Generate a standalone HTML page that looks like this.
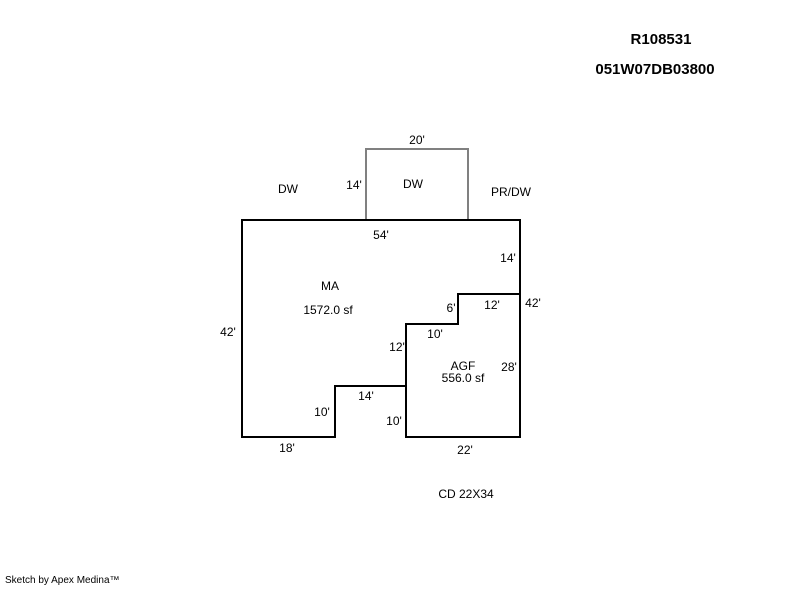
<!DOCTYPE html>
<html><head><style>body{margin:0;background:#fff;width:800px;height:587px;overflow:hidden}</style></head><body>
<svg width="800" height="587" xmlns="http://www.w3.org/2000/svg" font-family="Liberation Sans, sans-serif" font-size="12" fill="#000">
<text x="661" y="44" font-size="15" font-weight="bold" text-anchor="middle">R108531</text>
<text x="655" y="74" font-size="15" font-weight="bold" text-anchor="middle">051W07DB03800</text>
<polyline points="366,220 366,149 468,149 468,220" fill="none" stroke="#808080" stroke-width="2"/>
<polygon points="242,220 520,220 520,294 458,294 458,324 406,324 406,386 335,386 335,437 242,437" fill="none" stroke="#000" stroke-width="2"/>
<polygon points="406,324 458,324 458,294 520,294 520,437 406,437" fill="none" stroke="#000" stroke-width="2"/>
<g text-anchor="middle">
<text x="417" y="144">20'</text>
<text x="354" y="189">14'</text>
<text x="413" y="188">DW</text>
<text x="288" y="193">DW</text>
<text x="511" y="196">PR/DW</text>
<text x="381" y="239">54'</text>
<text x="508" y="262">14'</text>
<text x="330" y="290">MA</text>
<text x="328" y="314">1572.0 sf</text>
<text x="451" y="312">6'</text>
<text x="492" y="309">12'</text>
<text x="533" y="307">42'</text>
<text x="435" y="338">10'</text>
<text x="228" y="336">42'</text>
<text x="397" y="351">12'</text>
<text x="463" y="370">AGF</text>
<text x="463" y="382">556.0 sf</text>
<text x="509" y="371">28'</text>
<text x="366" y="400">14'</text>
<text x="322" y="416">10'</text>
<text x="394" y="425">10'</text>
<text x="287" y="452">18'</text>
<text x="465" y="454">22'</text>
<text x="466" y="498">CD 22X34</text>
</g>
<text x="5" y="583" font-size="10">Sketch by Apex Medina™</text>
</svg>
</body></html>
